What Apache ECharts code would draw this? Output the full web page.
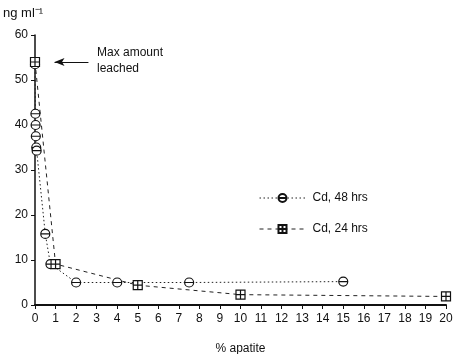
<!DOCTYPE html>
<html>
<head>
<meta charset="utf-8">
<script src="https://cdn.jsdelivr.net/npm/echarts@6/dist/echarts.min.js"></script>
<style>
  html, body { margin: 0; padding: 0; background: #fff; }
  #main { width: 456px; height: 354px; }
</style>
</head>
<body>
<div id="main"></div>
<script>
// % apatite vs Cd concentration
var xTicks = [0, 20, 1];
var yTicks = [0, 60, 10];

var cd48X = [0, 0.02, 0.03, 0.04, 0.06, 0.08, 0.5, 0.75, 2, 4, 7.5, 15];
var cd48Y = [53.5, 42.5, 40, 37.5, 35, 34.3, 15.8, 9.1, 5, 5, 5, 5.2];

var cd24X = [0, 1, 5, 10, 20];
var cd24Y = [54, 9.1, 4.4, 2.3, 1.9];

var circleSym = "path://M0,5 A5,5 0 1,1 10,5 A5,5 0 1,1 0,5 Z M0,5 L10,5";
var squareSym = "path://M0,0 L10,0 L10,10 L0,10 Z M0,5 L10,5 M5,0 L5,10";

function pairs(xs, ys) {
  return xs.map(function (x, i) { return [x, ys[i]]; });
}

var chart = echarts.init(document.getElementById("main"));
var font = "Liberation Sans, Arial, sans-serif";

chart.setOption({
  animation: false,
  textStyle: { fontFamily: font, color: "#111" },
  grid: { left: 35, right: 10, top: 35, bottom: 49, containLabel: false, outerBoundsMode: "none" },
  xAxis: {
    type: "value",
    min: xTicks[0], max: xTicks[1], interval: xTicks[2],
    name: "% apatite",
    nameLocation: "middle",
    nameGap: 38,
    nameTextStyle: { fontSize: 12, color: "#111" },
    axisLine: { lineStyle: { color: "#111", width: 2 } },
    axisTick: { length: 4, lineStyle: { color: "#111" } },
    axisLabel: { fontSize: 12, color: "#111", margin: 8 },
    splitLine: { show: false }
  },
  yAxis: {
    type: "value",
    min: yTicks[0], max: yTicks[1], interval: yTicks[2],
    axisLine: { show: true, lineStyle: { color: "#111", width: 1.5 } },
    axisTick: { show: true, length: 4, lineStyle: { color: "#111" } },
    axisLabel: { fontSize: 12, color: "#111", margin: 7 },
    splitLine: { show: false }
  },
  legend: {
    orient: "vertical",
    left: 254,
    top: 187,
    itemGap: 19,
    itemWidth: 46,
    itemHeight: 10,
    textStyle: { fontSize: 12, color: "#111", fontFamily: font, padding: [0, 0, 0, 2] },
    data: [
      { name: "Cd, 48 hrs", lineStyle: { width: 1, color: "#222", type: [1.5, 2.5] } },
      { name: "Cd, 24 hrs", lineStyle: { width: 1, color: "#222", type: [4, 4] } }
    ]
  },
  graphic: [
    { type: "text", left: 3, top: 7,
      style: { text: "ng ml⁻¹", fontSize: 13, fill: "#111", fontFamily: font } },
    { type: "text", left: 97, top: 45,
      style: { text: "Max amount\nleached", fontSize: 12, lineHeight: 16, fill: "#111", fontFamily: font } }
  ],
  series: [
    {
      name: "Cd, 48 hrs",
      type: "line",
      data: pairs(cd48X, cd48Y),
      symbol: circleSym,
      symbolSize: 9,
      lineStyle: { color: "#222", width: 1, type: [1.5, 2.5] },
      itemStyle: { color: "#fff", borderColor: "#111", borderWidth: 1.2 },
      markLine: {
        silent: true,
        symbol: ["arrow", "none"],
        symbolSize: [6, 10],
        label: { show: false },
        lineStyle: { color: "#111", width: 1.2, type: "solid" },
        data: [[{ coord: [0.95, 54] }, { coord: [2.6, 54] }]]
      }
    },
    {
      name: "Cd, 24 hrs",
      type: "line",
      data: pairs(cd24X, cd24Y),
      symbol: squareSym,
      symbolSize: 9,
      lineStyle: { color: "#222", width: 1, type: [4, 4] },
      itemStyle: { color: "#fff", borderColor: "#111", borderWidth: 1.2 }
    }
  ]
});
</script>
</body>
</html>
